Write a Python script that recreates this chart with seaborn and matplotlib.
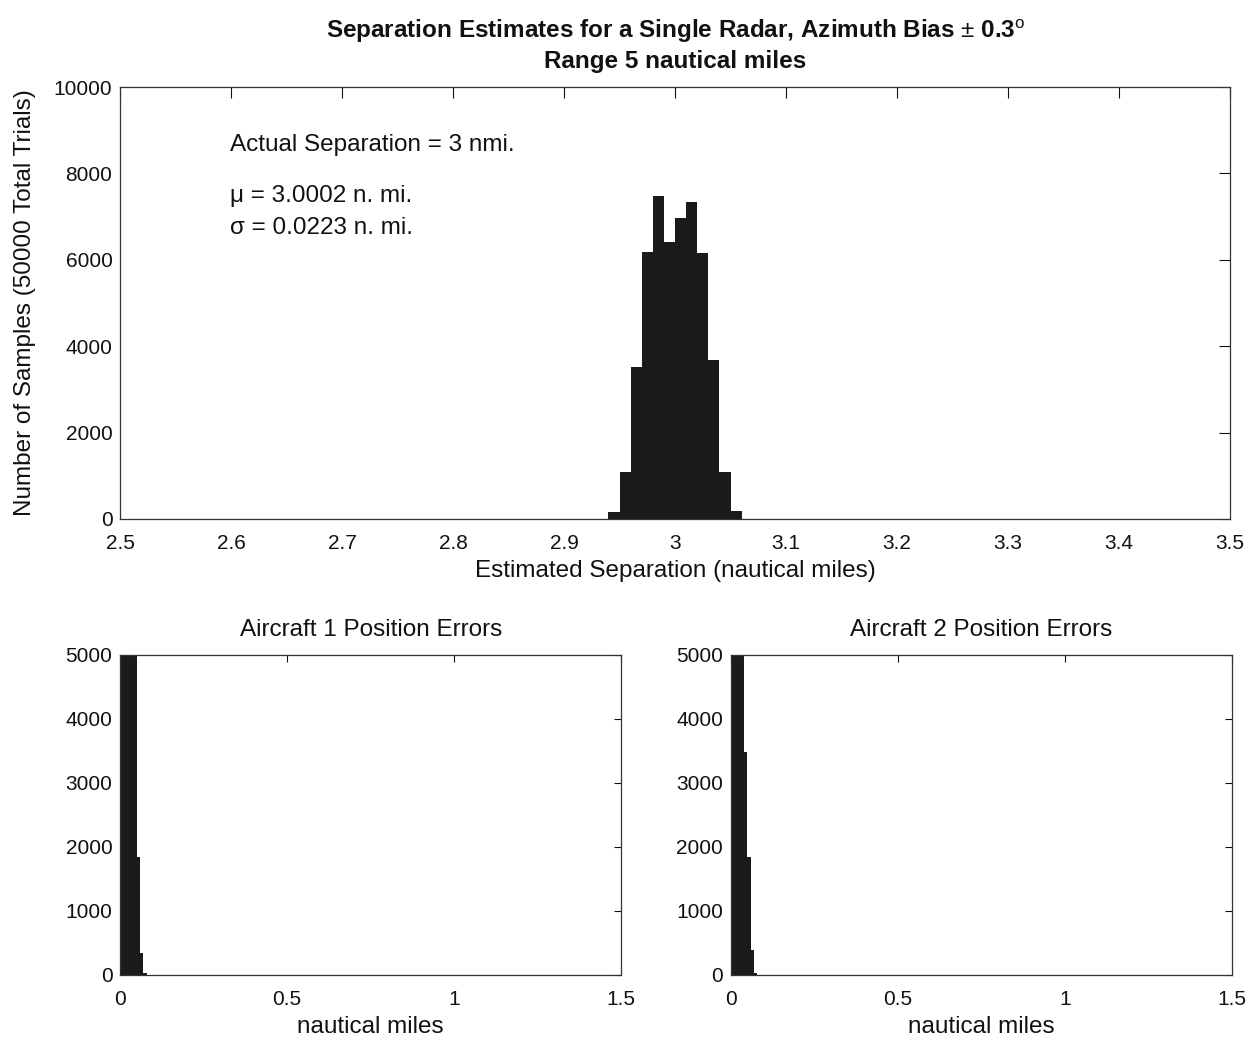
import numpy as np
import pandas as pd
import matplotlib
matplotlib.use("Agg")
import matplotlib.pyplot as plt
import seaborn as sns

# ---------------- data ----------------
sep_centers = [2.945, 2.955, 2.965, 2.975, 2.985, 2.995, 3.005, 3.015, 3.025, 3.035, 3.045, 3.055]
sep_counts = [170, 1090, 3520, 6190, 7480, 6420, 6960, 7350, 6150, 3680, 1090, 185]

err1_centers = [0.005, 0.015, 0.025, 0.035, 0.045, 0.055, 0.065, 0.075]
err1_counts = [6800, 10400, 11200, 10500, 8900, 1850, 340, 30]

err2_centers = [0.005, 0.015, 0.025, 0.035, 0.045, 0.055, 0.065, 0.075]
err2_counts = [9000, 12500, 12300, 10400, 3490, 1850, 390, 30]

sep_xticks = [2.5, 2.6, 2.7, 2.8, 2.9, 3.0, 3.1, 3.2, 3.3, 3.4, 3.5]
sep_xticklabels = ["2.5", "2.6", "2.7", "2.8", "2.9", "3", "3.1", "3.2", "3.3", "3.4", "3.5"]
sep_yticks = [0, 2000, 4000, 6000, 8000, 10000]
err_xticks = [0, 0.5, 1, 1.5]
err_xticklabels = ["0", "0.5", "1", "1.5"]
err_yticks = [0, 1000, 2000, 3000, 4000, 5000]

title_text = ("Separation Estimates for a Single Radar, Azimuth Bias $\\pm$ 0.3$^{\\mathrm{o}}$\n"
              "Range 5 nautical miles")
annot_lines = ["Actual Separation = 3 nmi.", "\u03bc = 3.0002 n. mi.", "\u03c3 = 0.0223 n. mi."]
annot_y = [8650, 7480, 6740]

# ---------------- style ----------------
sns.set_theme(style="white")
plt.rcParams["font.family"] = ["Liberation Sans", "DejaVu Sans"]
plt.rcParams["mathtext.fontset"] = "custom"
plt.rcParams["mathtext.rm"] = "Liberation Sans"
plt.rcParams["mathtext.bf"] = "Liberation Sans:bold"
plt.rcParams["axes.edgecolor"] = "#333333"
plt.rcParams["axes.linewidth"] = 0.9

BAR = "#1b1b1b"
FS_TICK = 15
FS_LAB = 17.5
TXT = "#111111"


def edges_from(centers, width):
    c = np.asarray(centers, dtype=float)
    return [float(v) for v in np.append(c - width / 2, c[-1] + width / 2)]


def style_axes(ax, ticklen):
    ax.tick_params(direction="in", length=ticklen, width=0.8, top=True, right=True,
                   labelsize=FS_TICK, colors=TXT)
    ax.tick_params(axis="x", pad=11)
    ax.tick_params(axis="y", pad=5.5)
    for s in ax.spines.values():
        s.set_visible(True)


fig = plt.figure(figsize=(12.53, 10.40), dpi=100)

# top panel
ax1 = fig.add_axes([0.0958, 0.5010, 0.8859, 0.4153])
df1 = pd.DataFrame({"x": sep_centers, "w": sep_counts})
sns.histplot(data=df1, x="x", weights="w", bins=edges_from(sep_centers, 0.01),
             color=BAR, alpha=1, linewidth=0, ax=ax1)
ax1.set_xlim(2.5, 3.5)
ax1.set_ylim(0, 10000)
ax1.set_xticks(sep_xticks)
ax1.set_xticklabels(sep_xticklabels)
ax1.set_yticks(sep_yticks)
ax1.set_xlabel("Estimated Separation (nautical miles)", fontsize=FS_LAB, labelpad=5, color=TXT)
ax1.set_ylabel("Number of Samples (50000 Total Trials)", fontsize=FS_LAB, labelpad=13, color=TXT)
style_axes(ax1, 8)
for t, yv in zip(annot_lines, annot_y):
    ax1.text(2.599, yv, t, fontsize=FS_LAB, ha="left", va="center", color=TXT)
fig.text(0.539, 0.984, title_text, ha="center", va="top", fontsize=FS_LAB,
         fontweight="bold", linespacing=1.3, color=TXT)

# bottom panels
for idx, (centers, counts, left, ttl) in enumerate([
        (err1_centers, err1_counts, 0.0958, "Aircraft 1 Position Errors"),
        (err2_centers, err2_counts, 0.5832, "Aircraft 2 Position Errors")]):
    ax = fig.add_axes([left, 0.0625, 0.400, 0.3077])
    df = pd.DataFrame({"x": centers, "w": counts})
    sns.histplot(data=df, x="x", weights="w", bins=edges_from(centers, 0.01),
                 color=BAR, alpha=1, linewidth=0, ax=ax)
    ax.set_xlim(0, 1.5)
    ax.set_ylim(0, 5000)
    ax.set_xticks(err_xticks)
    ax.set_xticklabels(err_xticklabels)
    ax.set_yticks(err_yticks)
    ax.set_xlabel("nautical miles", fontsize=FS_LAB, labelpad=5, color=TXT)
    ax.set_ylabel("")
    ax.set_title(ttl, fontsize=FS_LAB, pad=14, color=TXT)
    style_axes(ax, 5)

fig.savefig("out.png", dpi=100)
